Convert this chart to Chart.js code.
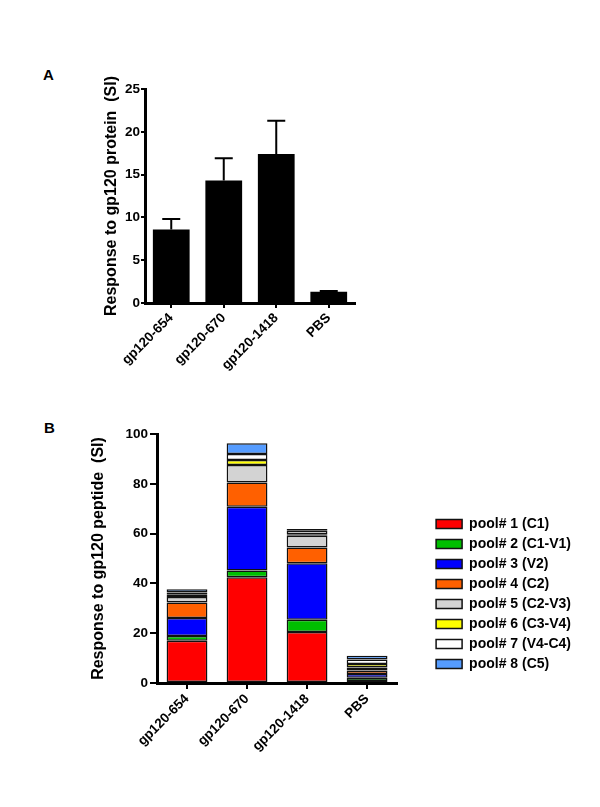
<!DOCTYPE html>
<html>
<head>
<meta charset="utf-8">
<script src="https://cdn.jsdelivr.net/npm/chart.js@4.4.1/dist/chart.umd.min.js"></script>
<style>
  body{margin:0;background:#fff;width:600px;height:807px;position:relative;overflow:hidden;font-family:"Liberation Sans",Arial,sans-serif;}
  canvas{position:absolute;left:0;}
  .panel{position:absolute;font-weight:bold;font-size:15px;color:#000;}
</style>
</head>
<body>
<div class="panel" style="left:43px;top:66px;">A</div>
<div class="panel" style="left:44px;top:419px;">B</div>
<canvas id="chartA" width="600" height="400" style="top:0px"></canvas>
<canvas id="chartB" width="600" height="386" style="top:400px"></canvas>
<script>
const groups = ['gp120-654','gp120-670','gp120-1418','PBS'];

// panel A: protein response, mean + SEM
const proteinSI = [8.6, 14.3, 17.4, 1.3];
const proteinErr = [1.2, 2.6, 3.9, 0.1];

// panel B: peptide pools, stacked
const poolNames = ['pool# 1 (C1)','pool# 2 (C1-V1)','pool# 3 (V2)','pool# 4 (C2)','pool# 5 (C2-V3)','pool# 6 (C3-V4)','pool# 7 (V4-C4)','pool# 8 (C5)'];
const poolColors = ['#ff0000','#00bf00','#0000ff','#ff6000','#d3d3d3','#ffff00','#ffffff','#559cff'];
const pool1 = [17.0, 42.5, 20.5, 0.8];
const pool2 = [1.9, 2.7, 4.9, 1.3];
const pool3 = [7.2, 25.6, 22.7, 1.5];
const pool4 = [6.2, 9.7, 6.3, 1.4];
const pool5 = [2.2, 7.1, 4.7, 1.2];
const pool6 = [0.9, 2.0, 0.6, 1.4];
const pool7 = [0.9, 2.4, 1.4, 1.8];
const pool8 = [1.4, 4.3, 0.7, 1.5];
const poolValues = [pool1,pool2,pool3,pool4,pool5,pool6,pool7,pool8];

const FONT = "'Liberation Sans', Arial, sans-serif";
Chart.defaults.font.family = FONT;
Chart.defaults.color = '#000';

const errorBars = {
    id:'errorBars',
    afterDatasetsDraw(chart){
        const ctx = chart.ctx;
        const meta = chart.getDatasetMeta(0);
        const y = chart.scales.y;
        ctx.save();
        ctx.strokeStyle = '#000';
        ctx.lineWidth = 2;
        meta.data.forEach((bar,i)=>{
            const top = y.getPixelForValue(proteinSI[i] + proteinErr[i]);
            const base = y.getPixelForValue(proteinSI[i]);
            ctx.beginPath();
            ctx.moveTo(bar.x, base);
            ctx.lineTo(bar.x, top);
            ctx.moveTo(bar.x - 9, top);
            ctx.lineTo(bar.x + 9, top);
            ctx.stroke();
        });
        ctx.restore();
    }
};

function tickGrid(len){
    return {display:true, drawOnChartArea:false, drawTicks:true, tickLength:len, color:'#000', lineWidth:2, offset:false};
}

new Chart(document.getElementById('chartA'),{
    type:'bar',
    data:{labels:groups, datasets:[{data:proteinSI, backgroundColor:'#000', borderWidth:0, barPercentage:0.7, categoryPercentage:1}]},
    options:{
        responsive:false, animation:false, devicePixelRatio:1,
        layout:{padding:{left:102, top:89, right:245, bottom:7}},
        plugins:{legend:{display:false}, tooltip:{enabled:false}},
        scales:{
            x:{
                grid:tickGrid(5),
                border:{display:true, color:'#000', width:3},
                ticks:{font:{size:13.5, weight:'bold'}, minRotation:45, maxRotation:45, padding:2},
                afterFit(s){ s.height = 90; }
            },
            y:{
                min:0, max:25,
                grid:tickGrid(4),
                border:{display:true, color:'#000', width:3},
                ticks:{stepSize:5, font:{size:13.5, weight:'bold'}, padding:1},
                title:{display:true, text:'Response to gp120 protein  (SI)', font:{size:16, weight:'bold'}, padding:0},
                afterFit(s){ s.width = 43; }
            }
        }
    },
    plugins:[errorBars]
});

new Chart(document.getElementById('chartB'),{
    type:'bar',
    data:{
        labels:groups,
        datasets:poolValues.map((vals,i)=>({
            label:poolNames[i], data:vals, backgroundColor:poolColors[i],
            borderColor:'#111', borderWidth:1.5, borderSkipped:false,
            barPercentage:0.68, categoryPercentage:1
        }))
    },
    options:{
        responsive:false, animation:false, devicePixelRatio:1,
        layout:{padding:{left:89, top:34, right:19, bottom:32}},
        plugins:{
            tooltip:{enabled:false},
            legend:{
                position:'right', align:'center', maxWidth:175,
                labels:{boxWidth:26, boxHeight:9, padding:6, color:'#000', font:{size:14, weight:'bold'}}
            }
        },
        scales:{
            x:{
                stacked:true,
                grid:tickGrid(6),
                border:{display:true, color:'#000', width:3},
                ticks:{font:{size:13.5, weight:'bold'}, minRotation:45, maxRotation:45, padding:2},
                afterFit(s){ s.height = 71; }
            },
            y:{
                stacked:true, min:0, max:100,
                grid:tickGrid(7),
                border:{display:true, color:'#000', width:3},
                ticks:{stepSize:20, font:{size:13.5, weight:'bold'}, padding:2},
                title:{display:true, text:'Response to gp120 peptide  (SI)', font:{size:16, weight:'bold'}, padding:0},
                afterFit(s){ s.width = 68; }
            },
            // spacer between plot and legend
            gap:{
                position:'right', display:true,
                grid:{display:false}, border:{display:false}, ticks:{display:false},
                afterFit(s){ s.width = 33; }
            }
        }
    }
});
</script>
</body>
</html>
